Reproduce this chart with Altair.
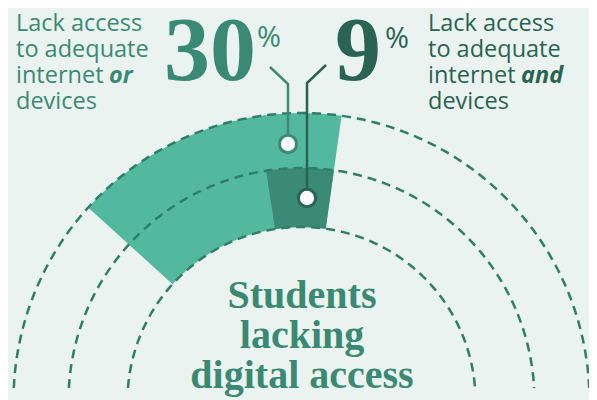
import math
import numpy as np
import pandas as pd
import altair as alt

# ---------------- data ----------------
shares = [30, 9]
share_labels = ["30", "9"]
groups = ["internet or devices", "internet and devices"]
seg_colors = ["#53b99e", "#3a8a75"]
inner_ring = [0, 0]          # ring index where each band starts
outer_ring = [2, 1]          # ring index where each band ends

left_lines = ["Lack access", "to adequate", "internet", "devices"]
left_emph = "or"
right_lines = ["Lack access", "to adequate", "internet", "devices"]
right_emph = "and"
title_lines = ["Students", "lacking", "digital access"]

# ---------------- layout ----------------
W, H = 581, 392
CX, CY = 293.5, 393.0
RINGS = [174, 233, 288]
ANCHOR = 54.3                 # percent position where bands end
TH0, TH1 = -93.0, 93.0        # degrees for 0..100 %
BG = "#eaf3ef"
GREEN = "#3a8a73"
DARK = "#2a6352"
RING_COLOR = "#2f7f68"
SANS = "Open Sans"
SERIF = "Liberation Serif"

seg = pd.DataFrame({
    "group": groups,
    "value": shares,
    "start": [ANCHOR - v for v in shares],
    "end": [ANCHOR for _ in shares],
    "r_in": [RINGS[i] for i in inner_ring],
    "r_out": [RINGS[i] for i in outer_ring],
    "ord": list(range(len(shares))),
})

theta_scale = alt.Scale(domain=[0, 100], range=[math.radians(TH0), math.radians(TH1)])

arcs = alt.Chart(seg).mark_arc(strokeWidth=0).encode(
    x=alt.value(CX),
    y=alt.value(CY),
    theta=alt.Theta("start:Q", scale=theta_scale, stack=None),
    theta2="end:Q",
    radius=alt.Radius("r_out:Q", scale=None),
    radius2="r_in:Q",
    color=alt.Color("group:N", scale=alt.Scale(domain=groups, range=seg_colors), legend=None),
    order=alt.Order("ord:Q"),
)

# dashed rings (grid)
ring_rows = []
BOTTOM = 380.0
for k, r in enumerate(RINGS):
    a_end = 90.0 - math.degrees(math.asin((CY - BOTTOM) / r))
    for i, a in enumerate(np.linspace(-a_end, a_end, 260)):
        ring_rows.append({"ring": k, "i": i, "r": r, "a": float(a)})
ring_df = pd.DataFrame(ring_rows)

rings = alt.Chart(ring_df).transform_calculate(
    px=f"{CX} + datum.r * sin(datum.a * PI / 180)",
    py=f"{CY} - datum.r * cos(datum.a * PI / 180)",
).mark_line(color=RING_COLOR, strokeWidth=2.5, strokeDash=[9, 6]).encode(
    x=alt.X("px:Q", scale=None, axis=None),
    y=alt.Y("py:Q", scale=None, axis=None),
    detail="ring:N",
    order="i:Q",
)

# leader lines and markers (annotation layout)
lead_df = pd.DataFrame({
    "lead": [0, 0, 0, 1, 1, 1],
    "k": [0, 1, 2, 0, 1, 2],
    "px": [262, 280, 280, 318, 299, 299],
    "py": [59, 76, 136, 57, 75, 190],
    "col": [GREEN, GREEN, GREEN, DARK, DARK, DARK],
})
leads = alt.Chart(lead_df).mark_line(strokeWidth=2.5).encode(
    x=alt.X("px:Q", scale=None, axis=None),
    y=alt.Y("py:Q", scale=None, axis=None),
    detail="lead:N",
    order="k:Q",
    color=alt.Color("col:N", scale=None),
)
dot_df = pd.DataFrame({"px": [280, 299], "py": [136, 190], "col": [GREEN, DARK]})
dots = alt.Chart(dot_df).mark_point(shape="circle", filled=True, fill="white",
                                    size=300, strokeWidth=3, opacity=1).encode(
    x=alt.X("px:Q", scale=None, axis=None),
    y=alt.Y("py:Q", scale=None, axis=None),
    stroke=alt.Stroke("col:N", scale=None),
)

def txt(text, x, y, size, color, font, weight="normal", style="normal", align="left", lh=None):
    kw = dict(align=align, baseline="alphabetic", fontSize=size, font=font,
              fontWeight=weight, fontStyle=style, color=color)
    if lh is not None:
        kw["lineHeight"] = lh
    return alt.Chart(pd.DataFrame({"_": [0]})).mark_text(**kw).encode(
        x=alt.value(x), y=alt.value(y), text=alt.value(text))

texts = [
    txt(left_lines, 8, 23, 23.5, GREEN, SANS, lh=26),
    txt(left_emph, 101, 75, 23.5, GREEN, SANS, weight="bold", style="italic"),
    txt(right_lines, 420, 23, 23.5, DARK, SANS, lh=26),
    txt(right_emph, 513, 75, 23.5, DARK, SANS, weight="bold", style="italic"),
    txt(share_labels[0], 248, 72, 92, GREEN, SERIF, weight="bold", align="right"),
    txt("%", 249, 39, 29, GREEN, SANS),
    txt(share_labels[1], 350, 72, 92, DARK, SERIF, weight="bold", align="center"),
    txt("%", 377, 40, 29, DARK, SANS),
    txt(title_lines, 294, 300, 40, GREEN, SERIF, weight="bold", align="center", lh=40),
]

chart = alt.layer(arcs, rings, leads, dots, *texts).properties(
    width=W, height=H, padding=0, autosize="none", background=BG
).configure_view(stroke=None)

chart.save("out.html", embed_options={"renderer": "svg", "actions": False})
